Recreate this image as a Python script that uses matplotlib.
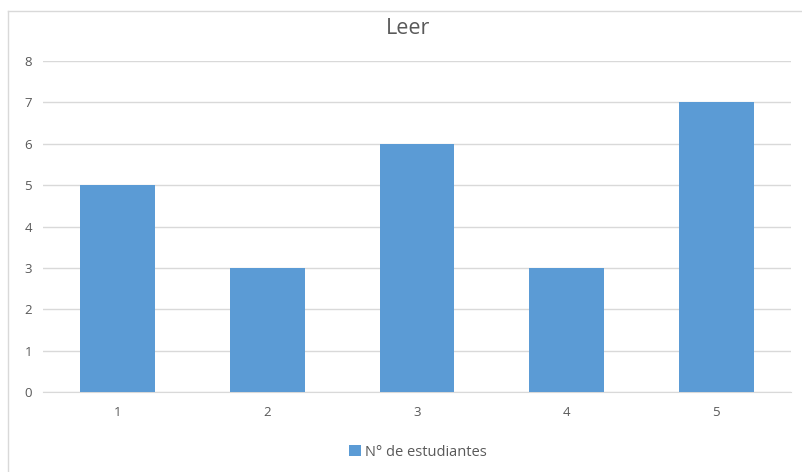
import matplotlib
matplotlib.use("Agg")
import matplotlib.pyplot as plt
from matplotlib.lines import Line2D

categories = ["1", "2", "3", "4", "5"]
values = [5, 3, 6, 3, 7]
series_name = "N° de estudiantes"
title = "Leer"
yticks = [0, 1, 2, 3, 4, 5, 6, 7, 8]

plt.rcParams['font.family'] = ['Open Sans', 'DejaVu Sans']
txt = '#595959'

fig = plt.figure(figsize=(8.03, 4.72), dpi=100)
W, H = 803, 472
ax = fig.add_axes([43 / W, 1 - 392 / H, (791 - 43) / W, (392 - 61) / H])

x = list(range(1, len(categories) + 1))
ax.bar(x, values, width=0.5, color='#5B9BD5', label=series_name, zorder=3)
ax.set_xlim(0.5, len(categories) + 0.5)
ax.set_ylim(0, 8)
ax.set_yticks(yticks)
ax.set_xticks(x)
ax.set_xticklabels(categories)
ax.grid(axis='y', color='#D9D9D9', linewidth=1, zorder=0)
for s in ['top', 'right', 'left']:
    ax.spines[s].set_visible(False)
ax.spines['bottom'].set_color('#D9D9D9')
ax.tick_params(axis='both', length=0, colors=txt, labelsize=9.5)
ax.tick_params(axis='y', pad=8)
ax.tick_params(axis='x', pad=10)

fig.text(408 / W, 1 - 29 / H, title, ha='center', va='center', fontsize=15.5, color=txt)

leg = fig.legend(loc='center', bbox_to_anchor=(418 / W, 1 - 452 / H), frameon=False,
                 fontsize=10.5, labelcolor=txt, handlelength=0.8, handleheight=0.8,
                 handletextpad=0.3)

# chart border (left and top visible)
fig.add_artist(Line2D([8 / W, 8 / W], [0, 1 - 11 / H], transform=fig.transFigure,
                      color='#D9D9D9', linewidth=1))
fig.add_artist(Line2D([8 / W, 1], [1 - 11 / H, 1 - 11 / H], transform=fig.transFigure,
                      color='#D9D9D9', linewidth=1))

fig.savefig("out.png", dpi=100)
